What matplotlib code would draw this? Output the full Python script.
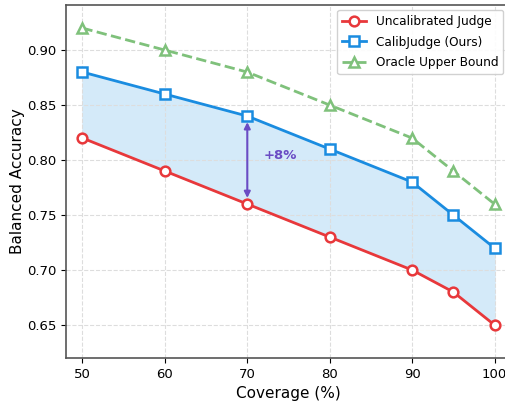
import matplotlib
matplotlib.use('Agg')
import matplotlib.pyplot as plt

coverage = [50, 60, 70, 80, 90, 95, 100]
uncalibrated = [0.82, 0.79, 0.76, 0.73, 0.70, 0.68, 0.65]
calibjudge = [0.88, 0.86, 0.84, 0.81, 0.78, 0.75, 0.72]
oracle = [0.92, 0.90, 0.88, 0.85, 0.82, 0.79, 0.76]
x_ticks = [50, 60, 70, 80, 90, 100]
y_ticks = [0.65, 0.70, 0.75, 0.80, 0.85, 0.90]

fig = plt.figure(figsize=(5.05, 4.08), dpi=100)
ax = fig.add_axes([66 / 505, 50 / 408, 445 / 505, 353 / 408])

ax.fill_between(coverage, uncalibrated, calibjudge, color='#d4eaf9', zorder=1)
ax.plot(coverage, uncalibrated, color='#e8383b', linewidth=2, marker='o', markersize=7,
        markerfacecolor='white', markeredgewidth=1.8, label='Uncalibrated Judge', zorder=3)
ax.plot(coverage, calibjudge, color='#1a8ce0', linewidth=2, marker='s', markersize=6.5,
        markerfacecolor='white', markeredgewidth=1.8, label='CalibJudge (Ours)', zorder=3)
ax.plot(coverage, oracle, color='#7fc17b', linewidth=2, linestyle='--', marker='^', markersize=7,
        markerfacecolor='white', markeredgewidth=1.8, label='Oracle Upper Bound', zorder=3)

# gap annotation at 70%
ax.annotate('', xy=(70, calibjudge[2] - 0.003), xytext=(70, uncalibrated[2] + 0.003),
            arrowprops=dict(arrowstyle='<|-|>', color='#6a4cc4', lw=1.5, mutation_scale=9), zorder=2)
ax.text(74, 0.8045, '+8%', color='#6a4cc4', fontsize=9.5, fontweight='bold', ha='center', va='center')

ax.set_xlim(48, 102)
ax.set_ylim(0.62, 0.941)
ax.set_xticks(x_ticks)
ax.set_yticks(y_ticks)
ax.set_yticklabels([f'{v:.2f}' for v in y_ticks])
ax.tick_params(labelsize=9.5)
ax.set_xlabel('Coverage (%)', fontsize=11)
ax.set_ylabel('Balanced Accuracy', fontsize=11, labelpad=1)
ax.grid(True, linestyle='--', color='#dddddd', linewidth=0.8)
for s in ax.spines.values():
    s.set_color('#555555')
    s.set_linewidth(1.2)

ax.legend(loc='upper right', bbox_to_anchor=(0.983, 0.986), borderaxespad=0, fontsize=8.7,
          framealpha=0.9, edgecolor='#cccccc', handlelength=2, labelspacing=0.65)

fig.savefig('out.png', dpi=100, facecolor='white')
